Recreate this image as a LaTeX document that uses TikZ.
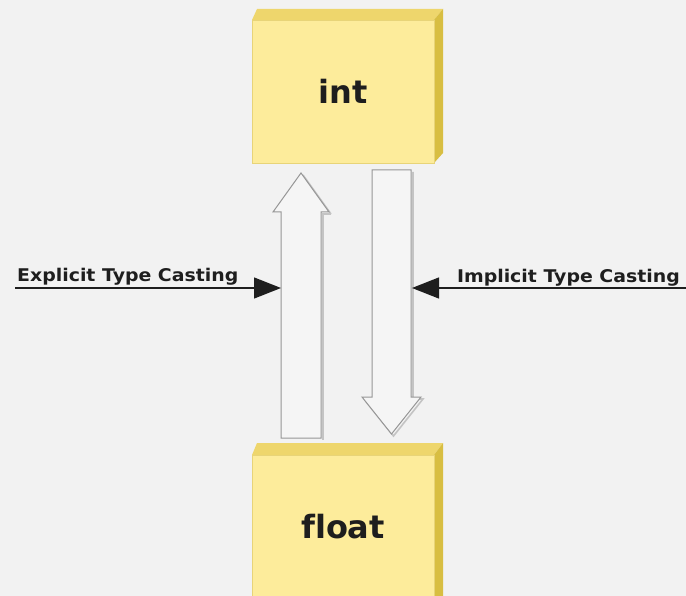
\documentclass[tikz,border=0pt]{standalone}
\usepackage{fontspec}
\setmainfont[Ligatures=NoCommon]{DejaVu Sans}
\usetikzlibrary{arrows.meta}
\definecolor{bg}{RGB}{242,242,242}
\definecolor{front}{RGB}{253,236,155}
\definecolor{frontedge}{RGB}{232,212,120}
\definecolor{topface}{RGB}{238,214,108}
\definecolor{sideface}{RGB}{216,190,66}
\definecolor{arrowfill}{RGB}{245,245,245}
\definecolor{arrowedge}{RGB}{150,150,150}
\definecolor{shadow}{RGB}{196,196,196}
\definecolor{ink}{RGB}{30,30,30}
\tikzset{
  frontbox/.style={draw=frontedge, line width=0.8pt, fill=front, minimum width=182pt,
    inner sep=0pt, text=ink, font=\fontsize{32}{36}\selectfont\bfseries},
  topbevel/.style={fill=topface, draw=none},
  sidebevel/.style={fill=sideface, draw=none},
  blockarrow/.style={fill=arrowfill, draw=arrowedge, line width=1pt, line join=miter},
  blockshadow/.style={draw=shadow, line width=1.6pt},
  castarrow/.style={draw=ink, line width=1.3pt, -{Triangle[length=27pt,width=21pt]}},
  castlabel/.style={text=ink, inner sep=0pt, font=\fontsize{17.5}{19}\selectfont\bfseries}
}
\begin{document}
\begin{tikzpicture}[x=1pt,y=-1pt]
\useasboundingbox (0,0) rectangle (686,596);
\clip (0,0) rectangle (686,596);
\fill[bg] (0,0) rectangle (686,596);

% int box
\fill[topbevel] (252,20) -- (257,9) -- (443,9) -- (434,20) -- cycle;
\fill[sidebevel] (434,20) -- (443,9) -- (443,153) -- (434,163) -- cycle;
\node[frontbox, minimum height=143pt] (int) at (343,91.5) {int};

% float box
\fill[topbevel] (252,455) -- (257,443) -- (443,443) -- (434,455) -- cycle;
\fill[sidebevel] (434,455) -- (443,443) -- (443,600) -- (434,600) -- cycle;
\node[frontbox, minimum height=144pt] (float) at (343,527) {float};

% up block arrow (float -> int)
\coordinate (upTail) at (301,438);
\coordinate (upTip) at (301,173);
\begin{scope}[shift={(2,2)}]
\draw[blockshadow] (329,212) -- (321,212) -- (321,438);
\draw[blockshadow] (301,173) -- (329,212);
\end{scope}
\draw[blockarrow] (281,438) -- (281,212) -- (273,212) -- (upTip) -- (329,212) -- (321,212) -- (321,438) -- cycle;

% down block arrow (int -> float)
\coordinate (dnTail) at (391.5,170);
\coordinate (dnTip) at (391.5,434);
\begin{scope}[shift={(2,2)}]
\draw[blockshadow] (411,170) -- (411,397) -- (421,397) -- (391.5,434) -- (362,397);
\end{scope}
\draw[blockarrow] (372,170) -- (411,170) -- (411,397) -- (421,397) -- (dnTip) -- (362,397) -- (372,397) -- cycle;

% cast labels and pointers
\node[castlabel, anchor=base west] (expl) at (17,282) {\scalebox{1.08}[1]{Explicit Type Casting}};
\node[castlabel, anchor=base east] (impl) at (680,283) {\scalebox{1.08}[1]{Implicit Type Casting}};
\coordinate (explStart) at (15,288);
\coordinate (upLeft) at (281,288);
\coordinate (implStart) at (686,288);
\coordinate (dnRight) at (412,288);
\draw[castarrow] (explStart) -- (upLeft);
\draw[castarrow] (implStart) -- (dnRight);
\end{tikzpicture}
\end{document}
